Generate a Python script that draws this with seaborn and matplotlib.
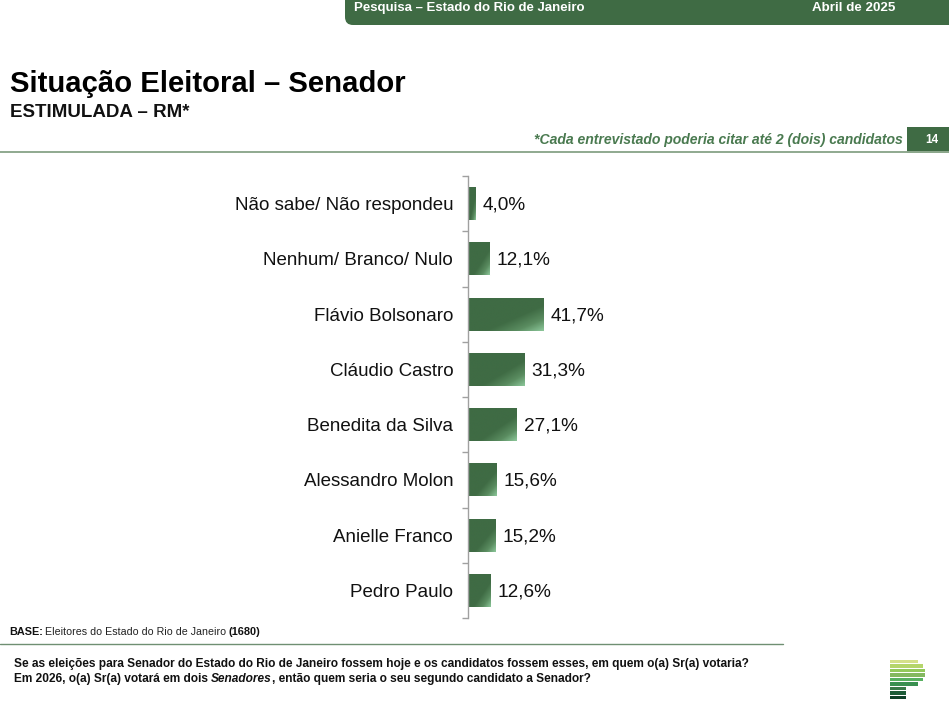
import numpy as np
import pandas as pd
import matplotlib
matplotlib.use("Agg")
import matplotlib.pyplot as plt
from matplotlib.colors import LinearSegmentedColormap
from matplotlib.patches import FancyBboxPatch, Rectangle
import seaborn as sns

categories = ["Não sabe/ Não respondeu", "Nenhum/ Branco/ Nulo", "Flávio Bolsonaro",
              "Cláudio Castro", "Benedita da Silva", "Alessandro Molon",
              "Anielle Franco", "Pedro Paulo"]
values = [4.0, 12.1, 41.7, 31.3, 27.1, 15.6, 15.2, 12.6]

W, H = 949, 702
GREEN = "#3f6b44"
TEXT_GREEN = "#4a7a50"

sns.set_theme(style="white")
plt.rcParams['font.family'] = ['Liberation Sans', 'DejaVu Sans']

fig = plt.figure(figsize=(W / 100, H / 100), dpi=100, facecolor="white")

# overlay in pixel coordinates for the slide furniture
bg = fig.add_axes([0, 0, 1, 1])
bg.set_xlim(0, W)
bg.set_ylim(H, 0)
bg.axis("off")

bg.add_patch(FancyBboxPatch((345, -20), 650, 45, boxstyle="round,pad=0,rounding_size=8",
                            linewidth=0, facecolor=GREEN))
bg.text(354, 11, "Pesquisa – Estado do Rio de Janeiro", color="white", fontsize=9.55,
        fontweight="bold", va="baseline")
bg.text(812, 11, "Abril de 2025", color="white", fontsize=9.6, fontweight="bold", va="baseline")

bg.text(10, 83.5, "Situação Eleitoral – Senador", color="black", fontsize=21.1,
        fontweight="bold", va="center")
bg.text(10, 112.5, "ESTIMULADA – RM*", color="#111111", fontsize=13.5, fontweight="bold", va="center")

bg.text(903, 140, "*Cada entrevistado poderia citar até 2 (dois) candidatos", color=TEXT_GREEN,
        fontsize=10.06, fontweight="bold", fontstyle="italic", va="center", ha="right")
bg.plot([0, W], [152, 152], color="#8fa98f", lw=1.4)
bg.add_patch(Rectangle((907, 127), 42, 26, color=GREEN, lw=0))
bg.text(932, 140, "14", color="white", fontsize=8.5, fontweight="bold", va="center", ha="center")

bg.text(9, 632, "BASE:", color="#111111", fontsize=7.8, fontweight="bold", va="center")
bg.text(45, 632, "Eleitores do Estado do Rio de Janeiro", color="#222222", fontsize=7.65, va="center")
bg.text(228.5, 632, "(1680)", color="#111111", fontsize=7.9, fontweight="bold", va="center")
bg.plot([0, 783], [643.5, 643.5], color="#6f8f72", lw=1.0)

q_style = dict(color="#111111", fontsize=8.6, fontweight="bold", va="baseline")
bg.text(14, 667, "Se as eleições para Senador do Estado do Rio de Janeiro fossem hoje e os candidatos "
        "fossem esses, em quem o(a) Sr(a) votaria?", **q_style)

# second line has one italic word, so place the pieces one after the other
renderer = fig.canvas.get_renderer()
x = 14
for piece, style in [("Em 2026, o(a) Sr(a) votará em dois ", "normal"), ("Senadores", "italic"),
                     (", então quem seria o seu segundo candidato a Senador?", "normal")]:
    t = bg.text(x, 682, piece.replace(" ", "\u00a0"), fontstyle=style, **q_style)
    x += t.get_window_extent(renderer).width

# logo stripes, top to bottom
logo = [(890, 918, "#d5e08a"), (890, 923, "#b5d56b"), (890, 925, "#93c95c"), (890, 925, "#84b860"),
        (890, 923, "#58b060"), (890, 918, "#3a9050"), (890, 906, "#3a7a48"), (890, 906, "#1d5c38"),
        (890, 906, "#0f4028")]
for i, (x0, x1, c) in enumerate(logo):
    bg.add_patch(Rectangle((x0, 659.5 + i * 4.5), x1 - x0, 3.6, color=c, lw=0))

# chart axes: one unit is 1.8 px, one category is 55.25 px
left, right, top, bottom = 468, 900, 176, 618
ax = fig.add_axes([left / W, 1 - bottom / H, (right - left) / W, (bottom - top) / H])
ax.patch.set_alpha(0)

df = pd.DataFrame({"categoria": categories, "valor": values})
sns.barplot(data=df, x="valor", y="categoria", color=GREEN, width=0.6, ax=ax, saturation=1)
ax.set_xlabel("")
ax.set_ylabel("")
ax.xaxis.set_visible(False)
for side in ["top", "right", "bottom"]:
    ax.spines[side].set_visible(False)
ax.spines["left"].set_color("#a0a0a0")
ax.spines["left"].set_linewidth(1.0)

ax.set_yticks(np.arange(-0.5, len(categories) + 0.5), minor=True)
ax.tick_params(axis="y", which="minor", length=4, width=1, color="#a0a0a0", left=True)
ax.tick_params(axis="y", which="major", length=0, pad=10.7, labelsize=13.5, labelcolor="#111111")

# diagonal gradient on each bar: flat dark green, light in the lower right corner
cmap = LinearSegmentedColormap.from_list("bar", [(0, GREEN), (0.62, GREEN), (0.82, "#5a8c60"), (1, "#8cc79a")])
yy, xx = np.mgrid[0:1:60j, 0:1:120j]
grad = (xx + yy) / 2
for bar, val in zip(ax.patches, values):
    x0, y0, w, h = bar.get_x(), bar.get_y(), bar.get_width(), bar.get_height()
    im = ax.imshow(grad, extent=(x0, x0 + w, y0 + h, y0), cmap=cmap, vmin=0, vmax=1,
                   aspect="auto", origin="upper", zorder=bar.get_zorder() + 1)
    im.set_clip_path(bar)
    ax.text(val + 4, y0 + h / 2 + 0.025, f"{val:.1f}%".replace(".", ","), va="center", ha="left",
            fontsize=13.7, color="#111111")
ax.set_xlim(0, (right - left) / 1.8)
ax.set_ylim(len(categories) - 0.5, -0.5)

fig.savefig("out.png", dpi=100)
